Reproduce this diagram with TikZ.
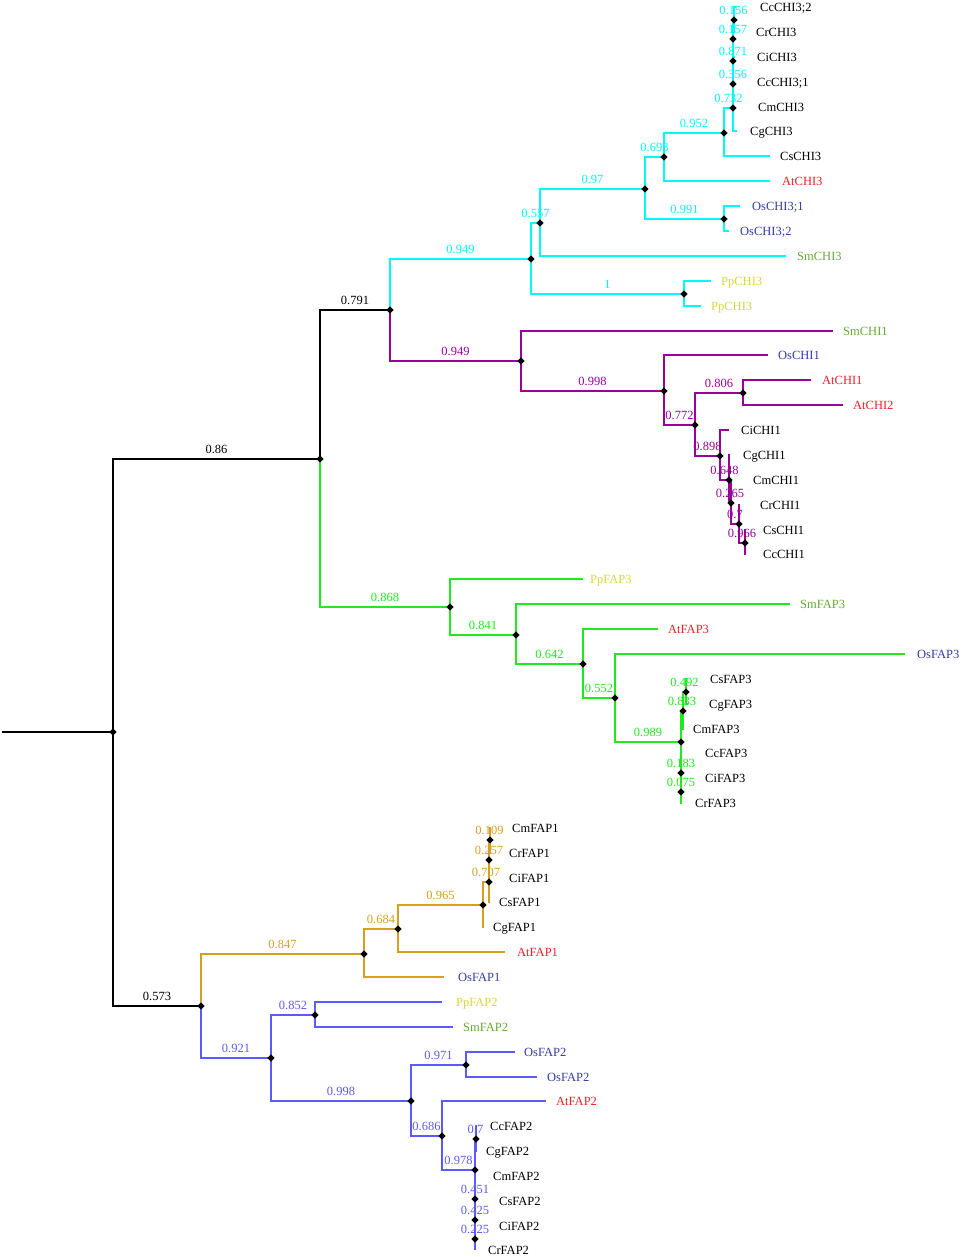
\documentclass[tikz,border=0pt]{standalone}
\usepackage{fontspec}
\setmainfont{Liberation Serif}
\usetikzlibrary{shapes.geometric}
\definecolor{cyC}{RGB}{0,250,250}
\definecolor{puC}{RGB}{153,0,153}
\definecolor{grC}{RGB}{30,235,30}
\definecolor{orC}{RGB}{212,160,30}
\definecolor{blC}{RGB}{90,90,255}
\definecolor{atC}{RGB}{240,30,40}
\definecolor{osC}{RGB}{50,60,160}
\definecolor{smC}{RGB}{100,170,50}
\definecolor{ppC}{RGB}{215,215,60}
\tikzset{
  dot/.style={diamond, fill=black, draw=none, inner sep=0pt, minimum size=7.5pt},
  brl/.style={line width=1.4pt, line join=miter},
  lab/.style={font=\fontsize{12.5}{14}\selectfont, inner sep=1pt, pos=0.75, above=4pt},
  leaf/.style={font=\fontsize{12.5}{14}\selectfont, inner sep=0pt, anchor=base west},
  bk/.style={brl, color=black}, cy/.style={brl, color=cyC}, pu/.style={brl, color=puC},
  gr/.style={brl, color=grC}, or/.style={brl, color=orC}, bl/.style={brl, color=blC}
}
\newcommand\edge[4]{\draw[#1] (#2) |- node[lab] {#4} (#3);}
\newcommand\tipedge[3]{\draw[#1] (#2) |- (#3);}
\newcommand\leafat[6]{\coordinate (#1) at (#2,#3); \node[leaf,text=#5] (#1L) at (#4,#3+4.3) {#6};}
\begin{document}
\begin{tikzpicture}[x=1pt,y=-1pt]
\useasboundingbox (0,0) rectangle (962,1257);
% internal nodes
\coordinate (r) at (2,732);
\coordinate (R0) at (113,732);
\coordinate (n086) at (320,459);
\coordinate (n0573) at (201,1006);
\coordinate (n0791) at (390,310);
\coordinate (c0949) at (531,259);
\coordinate (c0557) at (540,223);
\coordinate (c1) at (684,294);
\coordinate (c097) at (645,189);
\coordinate (c0693) at (664,157);
\coordinate (c0991) at (724,219);
\coordinate (c0952) at (724,133);
\coordinate (c0732) at (733,108);
\coordinate (c0356) at (733,84);
\coordinate (c0871) at (733,61);
\coordinate (c0157) at (733,39);
\coordinate (c0156) at (734,20);
\coordinate (p0949) at (521,361);
\coordinate (p0998) at (664,391);
\coordinate (p0772) at (695,425);
\coordinate (p0806) at (743,393);
\coordinate (p0898) at (720,456);
\coordinate (p0648) at (729,480);
\coordinate (p0265) at (731,503);
\coordinate (p07) at (739,524);
\coordinate (p0966) at (745,543);
\coordinate (g0868) at (450,607);
\coordinate (g0841) at (516,635);
\coordinate (g0642) at (583,664);
\coordinate (g0552) at (615,698);
\coordinate (g0989) at (681,742);
\coordinate (g0833) at (683,711);
\coordinate (g0492) at (686,692);
\coordinate (g0183) at (681,773);
\coordinate (g0075) at (681,792);
\coordinate (o0847) at (364,954);
\coordinate (o0684) at (398,929);
\coordinate (o0965) at (483,905);
\coordinate (o0707) at (489,882);
\coordinate (o0257) at (489,860);
\coordinate (o0109) at (490,840);
\coordinate (b0921) at (271,1058);
\coordinate (b0852) at (315,1015);
\coordinate (b0998) at (411,1101);
\coordinate (b0971) at (466,1065);
\coordinate (b0686) at (442,1136);
\coordinate (b0978) at (475,1170);
\coordinate (b07) at (476,1139);
\coordinate (b0451) at (475,1199);
\coordinate (b0425) at (475,1220);
\coordinate (b0225) at (475,1239);
% leaves
\leafat{L01}{736}{7}{760}{black}{CcCHI3;2}
\leafat{L02}{735}{32}{756}{black}{CrCHI3}
\leafat{L03}{735}{57}{757}{black}{CiCHI3}
\leafat{L04}{735}{82}{757}{black}{CcCHI3;1}
\leafat{L05}{735}{107}{758}{black}{CmCHI3}
\leafat{L06}{737}{131}{750}{black}{CgCHI3}
\leafat{L07}{770}{156}{780}{black}{CsCHI3}
\leafat{L08}{770}{181}{782}{atC}{AtCHI3}
\leafat{L09}{740}{206}{752}{osC}{OsCHI3;1}
\leafat{L10}{729}{231}{740}{osC}{OsCHI3;2}
\leafat{L11}{786}{256}{797}{smC}{SmCHI3}
\leafat{L12}{711}{281}{721}{ppC}{PpCHI3}
\leafat{L13}{701}{306}{711}{ppC}{PpCHI3}
\leafat{L14}{833}{331}{843}{smC}{SmCHI1}
\leafat{L15}{768}{355}{778}{osC}{OsCHI1}
\leafat{L16}{811}{380}{822}{atC}{AtCHI1}
\leafat{L17}{843}{405}{853}{atC}{AtCHI2}
\leafat{L18}{729}{430}{741}{black}{CiCHI1}
\leafat{L19}{730}{455}{743}{black}{CgCHI1}
\leafat{L20}{732}{480}{753}{black}{CmCHI1}
\leafat{L21}{740}{505}{760}{black}{CrCHI1}
\leafat{L22}{746}{530}{763}{black}{CsCHI1}
\leafat{L23}{746}{554}{763}{black}{CcCHI1}
\leafat{L24}{583}{579}{590}{ppC}{PpFAP3}
\leafat{L25}{790}{604}{800}{smC}{SmFAP3}
\leafat{L26}{658}{629}{668}{atC}{AtFAP3}
\leafat{L27}{905}{654}{917}{osC}{OsFAP3}
\leafat{L28}{687}{679}{710}{black}{CsFAP3}
\leafat{L29}{688}{704}{709}{black}{CgFAP3}
\leafat{L30}{684}{729}{693}{black}{CmFAP3}
\leafat{L31}{682}{753}{705}{black}{CcFAP3}
\leafat{L32}{682}{778}{705}{black}{CiFAP3}
\leafat{L33}{682}{803}{695}{black}{CrFAP3}
\leafat{L34}{491}{828}{512}{black}{CmFAP1}
\leafat{L35}{491}{853}{509}{black}{CrFAP1}
\leafat{L36}{490}{878}{509}{black}{CiFAP1}
\leafat{L37}{490}{902}{499}{black}{CsFAP1}
\leafat{L38}{484}{927}{493}{black}{CgFAP1}
\leafat{L39}{505}{952}{517}{atC}{AtFAP1}
\leafat{L40}{444}{977}{458}{osC}{OsFAP1}
\leafat{L41}{442}{1002}{456}{ppC}{PpFAP2}
\leafat{L42}{453}{1027}{463}{smC}{SmFAP2}
\leafat{L43}{515}{1052}{524}{osC}{OsFAP2}
\leafat{L44}{537}{1077}{547}{osC}{OsFAP2}
\leafat{L45}{546}{1101}{556}{atC}{AtFAP2}
\leafat{L46}{477}{1126}{490}{black}{CcFAP2}
\leafat{L47}{477}{1151}{486}{black}{CgFAP2}
\leafat{L48}{476}{1176}{493}{black}{CmFAP2}
\leafat{L49}{476}{1201}{499}{black}{CsFAP2}
\leafat{L50}{476}{1226}{499}{black}{CiFAP2}
\leafat{L51}{475}{1250}{488}{black}{CrFAP2}
% backbone
\draw[bk] (r) -- (R0);
\edge{bk}{R0}{n086}{0.86}
\edge{bk}{R0}{n0573}{0.573}
\edge{bk}{n086}{n0791}{0.791}
\edge{gr}{n086}{g0868}{0.868}
\edge{cy}{n0791}{c0949}{0.949}
\edge{pu}{n0791}{p0949}{0.949}
\edge{or}{n0573}{o0847}{0.847}
\edge{bl}{n0573}{b0921}{0.921}
% CHI3 clade
\edge{cy}{c0949}{c0557}{0.557}
\edge{cy}{c0949}{c1}{1}
\edge{cy}{c0557}{c097}{0.97}
\tipedge{cy}{c0557}{L11}
\edge{cy}{c097}{c0693}{0.693}
\edge{cy}{c097}{c0991}{0.991}
\edge{cy}{c0693}{c0952}{0.952}
\tipedge{cy}{c0693}{L08}
\edge{cy}{c0952}{c0732}{0.732}
\tipedge{cy}{c0952}{L07}
\edge{cy}{c0732}{c0356}{0.356}
\tipedge{cy}{c0732}{L06}
\edge{cy}{c0356}{c0871}{0.871}
\tipedge{cy}{c0356}{L05}
\edge{cy}{c0871}{c0157}{0.157}
\tipedge{cy}{c0871}{L04}
\edge{cy}{c0157}{c0156}{0.156}
\tipedge{cy}{c0157}{L03}
\tipedge{cy}{c0156}{L01}
\tipedge{cy}{c0156}{L02}
\tipedge{cy}{c0991}{L09}
\tipedge{cy}{c0991}{L10}
\tipedge{cy}{c1}{L12}
\tipedge{cy}{c1}{L13}
% CHI1 clade
\tipedge{pu}{p0949}{L14}
\edge{pu}{p0949}{p0998}{0.998}
\tipedge{pu}{p0998}{L15}
\edge{pu}{p0998}{p0772}{0.772}
\edge{pu}{p0772}{p0806}{0.806}
\edge{pu}{p0772}{p0898}{0.898}
\tipedge{pu}{p0806}{L16}
\tipedge{pu}{p0806}{L17}
\tipedge{pu}{p0898}{L18}
\edge{pu}{p0898}{p0648}{0.648}
\tipedge{pu}{p0648}{L19}
\edge{pu}{p0648}{p0265}{0.265}
\tipedge{pu}{p0265}{L20}
\edge{pu}{p0265}{p07}{0.7}
\tipedge{pu}{p07}{L21}
\edge{pu}{p07}{p0966}{0.966}
\tipedge{pu}{p0966}{L22}
\tipedge{pu}{p0966}{L23}
% FAP3 clade
\tipedge{gr}{g0868}{L24}
\edge{gr}{g0868}{g0841}{0.841}
\tipedge{gr}{g0841}{L25}
\edge{gr}{g0841}{g0642}{0.642}
\tipedge{gr}{g0642}{L26}
\edge{gr}{g0642}{g0552}{0.552}
\tipedge{gr}{g0552}{L27}
\edge{gr}{g0552}{g0989}{0.989}
\edge{gr}{g0989}{g0833}{0.833}
\edge{gr}{g0989}{g0183}{0.183}
\edge{gr}{g0833}{g0492}{0.492}
\tipedge{gr}{g0833}{L30}
\tipedge{gr}{g0492}{L28}
\tipedge{gr}{g0492}{L29}
\tipedge{gr}{g0183}{L31}
\edge{gr}{g0183}{g0075}{0.075}
\tipedge{gr}{g0075}{L32}
\tipedge{gr}{g0075}{L33}
% FAP1 clade
\edge{or}{o0847}{o0684}{0.684}
\tipedge{or}{o0847}{L40}
\edge{or}{o0684}{o0965}{0.965}
\tipedge{or}{o0684}{L39}
\edge{or}{o0965}{o0707}{0.707}
\tipedge{or}{o0965}{L38}
\edge{or}{o0707}{o0257}{0.257}
\tipedge{or}{o0707}{L37}
\edge{or}{o0257}{o0109}{0.109}
\tipedge{or}{o0257}{L36}
\tipedge{or}{o0109}{L34}
\tipedge{or}{o0109}{L35}
% FAP2 clade
\edge{bl}{b0921}{b0852}{0.852}
\edge{bl}{b0921}{b0998}{0.998}
\tipedge{bl}{b0852}{L41}
\tipedge{bl}{b0852}{L42}
\edge{bl}{b0998}{b0971}{0.971}
\edge{bl}{b0998}{b0686}{0.686}
\tipedge{bl}{b0971}{L43}
\tipedge{bl}{b0971}{L44}
\tipedge{bl}{b0686}{L45}
\edge{bl}{b0686}{b0978}{0.978}
\edge{bl}{b0978}{b07}{0.7}
\edge{bl}{b0978}{b0451}{0.451}
\tipedge{bl}{b07}{L46}
\tipedge{bl}{b07}{L47}
\tipedge{bl}{b0451}{L48}
\edge{bl}{b0451}{b0425}{0.425}
\tipedge{bl}{b0425}{L49}
\edge{bl}{b0425}{b0225}{0.225}
\tipedge{bl}{b0225}{L50}
\tipedge{bl}{b0225}{L51}
% node markers
\foreach \n in {R0,n086,n0573,n0791,c0949,c0557,c1,c097,c0693,c0991,c0952,c0732,c0356,c0871,c0157,c0156,p0949,p0998,p0772,p0806,p0898,p0648,p0265,p07,p0966,g0868,g0841,g0642,g0552,g0989,g0833,g0492,g0183,g0075,o0847,o0684,o0965,o0707,o0257,o0109,b0921,b0852,b0998,b0971,b0686,b0978,b07,b0451,b0425,b0225}
  \node[dot] (d-\n) at (\n) {};
\end{tikzpicture}
\end{document}
